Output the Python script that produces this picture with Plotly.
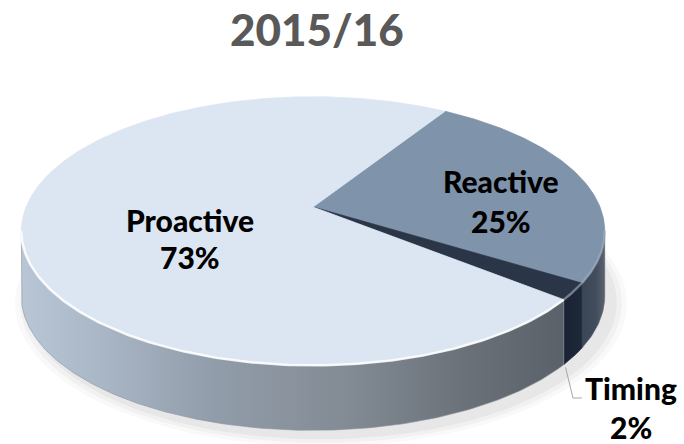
import numpy as np
import plotly.graph_objects as go

# ---------------- data ----------------
categories = ["Reactive", "Timing", "Proactive"]
values = [25, 2, 73]
title_text = "2015/16"

# ---------------- style / geometry ----------------
W, H = 684, 444
CX, CY = 313.0, 207.0      # projected pie centre (pixels)
RA, RB = 287.0, 130.0      # horizontal / depth radii
K = 0.179                  # perspective factor
DEPTH = 65.0               # thickness of the pie in pixels
START = 58.0               # math angle (deg) where first slice starts, going clockwise

top_colors = {"Reactive": "#7f93ab", "Timing": "#2a3648", "Proactive": "#dce6f2"}
side_scales = {
    "Proactive": [[0.0, "#b8c6d6"], [0.15, "#a9b6c5"], [0.35, "#929dab"],
                  [0.6, "#838b94"], [0.82, "#6a7179"], [1.0, "#5b6168"]],
    "Timing": [[0.0, "#1a2333"], [1.0, "#1e2838"]],
    "Reactive": [[0.0, "#3a4555"], [0.6, "#414c5c"], [1.0, "#5a6470"]],
}
# (x, y of first line, y of second line) for each label
label_pos = {"Proactive": (190, 220, 257), "Reactive": (501, 181, 221), "Timing": (631, 388, 427)}
FONT = "Lato"
LABEL_SIZE = 30


def proj(t_deg, drop=0.0):
    t = np.radians(t_deg)
    u, v = np.cos(t), np.sin(t)
    d = 1 + K * v
    return CX + RA * u / d, CY - RB * v / d + drop


def arc(t0, t1, n=120, drop=0.0):
    ts = np.linspace(t0, t1, max(2, int(abs(t1 - t0) / 360 * n * 4) + 2))
    x, y = proj(ts, drop)
    return list(x), list(y)


# slice angles (clockwise)
total = sum(values)
angles = []
a = START
for c, v in zip(categories, values):
    span = 360.0 * v / total
    angles.append((c, a, a - span))
    a -= span

vis_lo = -180 + np.degrees(np.arcsin(K))   # left silhouette
vis_hi = -np.degrees(np.arcsin(K))         # right silhouette

fig = go.Figure()

# soft shadow
for grow, alpha in [(14, 0.03), (9, 0.04), (4, 0.05)]:
    t = np.radians(np.linspace(0, 360, 200))
    u, v = np.cos(t), np.sin(t)
    d = 1 + K * v
    sx = CX + 8 + (RA + grow) * u / d
    sy = CY + DEPTH + 6 - (RB + grow * 0.6) * v / d
    fig.add_trace(go.Scatter(x=sx, y=sy, fill="toself", mode="lines",
                             line=dict(width=0), fillcolor=f"rgba(60,60,60,{alpha})",
                             hoverinfo="skip"))


def norm_range(t0, t1):
    out = []
    for shift in (-360, 0, 360):
        a0, a1 = t0 + shift, t1 + shift
        lo = max(a1, vis_lo)
        hi = min(a0, vis_hi)
        if hi > lo:
            out.append((hi, lo))
    return out


# side walls
for c, t0, t1 in angles:
    for hi, lo in norm_range(t0, t1):
        xt, yt = arc(hi, lo)
        xb, yb = arc(lo, hi, drop=DEPTH)
        xs = xt + xb + [xt[0]]
        ys = yt + yb + [yt[0]]
        fig.add_trace(go.Scatter(
            x=xs, y=ys, fill="toself", mode="lines",
            line=dict(width=0.6, color=side_scales[c][-1][1] if c != "Proactive" else "#8a939d"),
            fillgradient=dict(type="horizontal", colorscale=side_scales[c],
                              start=min(xs), stop=max(xs)),
            hoverinfo="skip"))

# top faces
for c, t0, t1 in angles:
    xa, ya = arc(t0, t1)
    xs = [CX] + xa + [CX]
    ys = [CY] + ya + [CY]
    fig.add_trace(go.Scatter(x=xs, y=ys, fill="toself", mode="lines",
                             line=dict(width=0.8, color=top_colors[c]),
                             fillcolor=top_colors[c], hoverinfo="skip"))

# rim highlight (bevel)
for c, t0, t1 in angles:
    for hi, lo in norm_range(t0, t1):
        xh, yh = arc(hi, lo)
        col = "rgba(255,255,255,0.85)" if c == "Proactive" else "rgba(160,175,195,0.6)"
        fig.add_trace(go.Scatter(x=xh, y=yh, mode="lines",
                                 line=dict(width=2.5, color=col), hoverinfo="skip"))

# leader line for Timing
tc, tt0, tt1 = [g for g in angles if g[0] == "Timing"][0]
lx, ly = proj((tt0 + tt1) / 2 - 3, drop=DEPTH + 4)
tx, ty1, _ = label_pos["Timing"]
fig.add_trace(go.Scatter(x=[float(lx), tx - 58, tx - 49],
                         y=[float(ly), ty1 + 10, ty1 + 10],
                         mode="lines", line=dict(width=1, color="#a6a6a6"),
                         hoverinfo="skip"))

annotations = [
    dict(x=317, y=29, text=title_text, showarrow=False,
         font=dict(family=FONT, size=44, color="#595959", weight=900), xref="x", yref="y"),
]
for c, v in zip(categories, values):
    x, y1, y2 = label_pos[c]
    for txt, yy in ((c, y1), (f"{v}%", y2)):
        annotations.append(dict(x=x, y=yy, text=txt, showarrow=False,
                                font=dict(family=FONT, size=LABEL_SIZE, color="#000000", weight=900),
                                xref="x", yref="y"))

fig.update_layout(
    width=W, height=H, margin=dict(l=0, r=0, t=0, b=0),
    xaxis=dict(range=[0, W], visible=False, fixedrange=True),
    yaxis=dict(range=[H, 0], visible=False, fixedrange=True),
    plot_bgcolor="white", paper_bgcolor="white",
    showlegend=False, hovermode=False,
    annotations=annotations,
)

fig.write_html("out.html")
